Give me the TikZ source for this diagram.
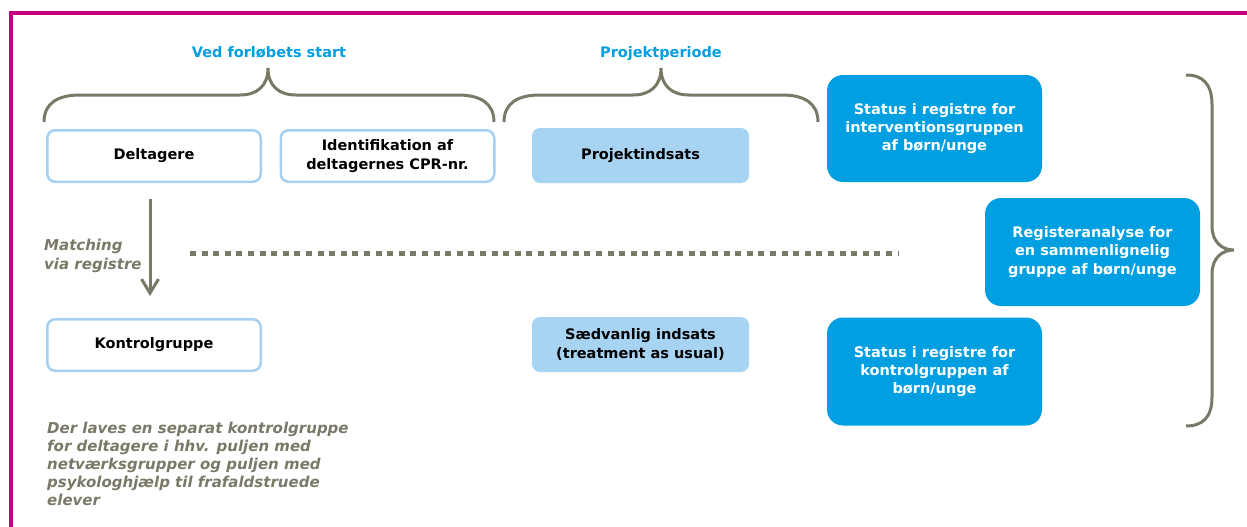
\documentclass[tikz,border=0pt]{standalone}
\usepackage{fontspec}
\setmainfont{DejaVu Sans}
\usetikzlibrary{arrows.meta,positioning}
\definecolor{ramme}{RGB}{198,0,126}
\definecolor{morkbla}{RGB}{0,159,225}
\definecolor{lysbla}{RGB}{168,212,244}
\definecolor{kant}{RGB}{165,208,242}
\definecolor{graa}{RGB}{122,121,104}
\tikzset{
  hvidboks/.style={draw=kant, line width=2.5pt, fill=white, rounded corners=8pt,
    minimum width=213.5pt, minimum height=51.5pt, align=center},
  lysboks/.style={fill=lysbla, rounded corners=8pt, minimum width=217pt,
    minimum height=55pt, align=center},
  morkboks/.style={fill=morkbla, text=white, rounded corners=16pt,
    minimum width=215pt, minimum height=107pt, align=center},
  overskrift/.style={text=morkbla, anchor=base},
  graatekst/.style={text=graa, font=\fontsize{15}{18.2}\selectfont\bfseries\itshape,
    align=left, anchor=west, inner sep=0pt},
  klamme/.style={draw=graa, line width=3pt},
  pil/.style={draw=graa, line width=3pt, -{Straight Barb[length=14pt,width=17pt]}},
  prikker/.style={draw=graa, line width=5pt, dash pattern=on 6pt off 5.6pt}
}
\begin{document}
\begin{tikzpicture}[x=1pt,y=-1pt,font=\fontsize{14.5}{18.3}\selectfont\bfseries]
\useasboundingbox (0,0) rectangle (1247,527);
\draw[ramme, line width=4pt, line join=miter] (10.5,540) -- (10.5,13) -- (1260,13);

\node[overskrift] (start) at (269,58) {Ved forløbets start};
\node[overskrift] (periode) at (661,58) {Projektperiode};

\draw[klamme] (44,122) .. controls (44,103) and (58,95) .. (80,95) -- (240,95)
  .. controls (257,95) and (268,86) .. (268,68) .. controls (268,86) and (279,95) .. (296,95)
  -- (458,95) .. controls (480,95) and (494,103) .. (494,122);
\draw[klamme] (504,122) .. controls (504,103) and (518,95) .. (540,95) -- (633,95)
  .. controls (650,95) and (661,86) .. (661,68) .. controls (661,86) and (672,95) .. (689,95)
  -- (782,95) .. controls (804,95) and (818,103) .. (818,122);
\draw[klamme] (1186,75) .. controls (1203,75) and (1212,84) .. (1212,105) -- (1212,226)
  .. controls (1212,242) and (1222,250) .. (1234,250) .. controls (1222,250) and (1212,258) .. (1212,274)
  -- (1212,397) .. controls (1212,417) and (1203,426) .. (1186,426);

\node[hvidboks] (delt) at (154,156) {Deltagere};
\node[hvidboks] (ident) at (387.5,156) {Identifikation af\\deltagernes CPR-nr.};
\node[lysboks] (projekt) at (640.5,155.5) {Projektindsats};
\node[morkboks] (statusint) at (934.5,128.5) {Status i registre for\\interventionsgruppen\\af børn/unge};
\node[morkboks, minimum height=108pt] (register) at (1092.5,252) {Registeranalyse for\\en sammenlignelig\\gruppe af børn/unge};
\node[hvidboks] (kontrol) at (154,345) {Kontrolgruppe};
\node[lysboks] (saedv) at (640.5,344.5) {Sædvanlig indsats\\(treatment as usual)};
\node[morkboks, minimum height=108pt] (statuskon) at (934.5,371.5) {Status i registre for\\kontrolgruppen af\\børn/unge};

\draw[pil, shorten <=16pt, shorten >=22pt] ([xshift=-4pt]delt.south) -- ([xshift=-4pt]kontrol.north);
\node[graatekst] (matching) at (44,256) {Matching\\via registre};

\coordinate (prikstart) at (190,253);
\coordinate (prikslut) at (899,253);
\draw[prikker] (prikstart) -- (prikslut);

\node[graatekst] (note) at (47,464) {Der laves en separat kontrolgruppe\\for deltagere i hhv. puljen med\\netværksgrupper og puljen med\\psykologhjælp til frafaldstruede\\elever};
\end{tikzpicture}
\end{document}
